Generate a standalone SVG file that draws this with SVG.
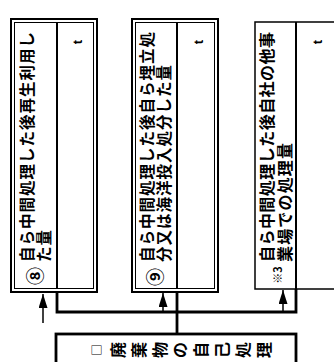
<svg xmlns="http://www.w3.org/2000/svg" width="334" height="362" viewBox="0 0 334 362">
<style>
.bg{fill:#fff}
.outer{fill:none;stroke:#000;stroke-width:2}
.inner{fill:none;stroke:#000;stroke-width:1}
.single{fill:#fff;stroke:#000;stroke-width:1.5}
.div{stroke:#000;stroke-width:2}
.jp{font-family:"Noto Sans CJK JP","Noto Sans CJK SC",sans-serif;font-weight:bold;font-size:15.5px;fill:#000;dominant-baseline:central}
.ch{font-family:"Noto Sans CJK JP","Noto Sans CJK SC",sans-serif;font-weight:bold;font-size:16px;fill:#000;text-anchor:middle;dominant-baseline:central}
.num{font-family:"Noto Sans CJK JP",sans-serif;font-weight:bold;font-size:18px;fill:#000;text-anchor:middle;dominant-baseline:central}
.unit{font-family:"Liberation Sans",sans-serif;font-weight:bold;font-size:13px;fill:#000;text-anchor:middle;dominant-baseline:central}
.wire{fill:none;stroke:#000;stroke-width:2.8}
.arr{fill:none;stroke:#000;stroke-width:1.5}
</style>
<defs>
<marker id="ahl" viewBox="0 0 14 9" refX="14" refY="4.5" markerWidth="14" markerHeight="9" markerUnits="userSpaceOnUse" orient="auto"><path d="M0,0 L14,4.5 L0,9 z" fill="#000"/></marker>
</defs>
<rect class="bg" x="0" y="0" width="334" height="362"/>

<g id="connectors">
<path class="wire" d="M57,292 V312 H296 V289"/>
<path class="wire" d="M177,292 V334"/>
<path class="arr" d="M43,323 V294" marker-end="url(#ahl)"/>
<path class="arr" d="M163,312 V293" marker-end="url(#ahl)"/>
<path class="arr" d="M283,312 V290" marker-end="url(#ahl)"/>
</g>

<g id="box8">
<rect class="outer" x="11" y="19" width="86" height="273"/>
<rect class="inner" x="14.5" y="22.5" width="79" height="266"/>
<line class="div" x1="57" y1="22.5" x2="57" y2="288.5"/>
<text class="jp" transform="translate(26,262) rotate(-90)" textLength="230" lengthAdjust="spacing">自ら中間処理した後再生利用し</text>
<text class="jp" transform="translate(43,262) rotate(-90)" letter-spacing="1">た量</text>
<text class="num" transform="translate(34,276) rotate(-90)">⑧</text>
<text class="unit" transform="translate(77,42) rotate(-90)">t</text>
</g>

<g id="box9">
<rect class="outer" x="132" y="19" width="86" height="273"/>
<rect class="inner" x="135.5" y="22.5" width="79" height="266"/>
<line class="div" x1="177" y1="22.5" x2="177" y2="288.5"/>
<text class="jp" transform="translate(146,262) rotate(-90)" textLength="230" lengthAdjust="spacing">自ら中間処理した後自ら埋立処</text>
<text class="jp" transform="translate(163,262) rotate(-90)" textLength="197" lengthAdjust="spacing">分又は海洋投入処分した量</text>
<text class="num" transform="translate(154,277) rotate(-90)">⑨</text>
<text class="unit" transform="translate(198,42) rotate(-90)">t</text>
</g>

<g id="box3">
<rect class="single" x="255" y="22" width="90" height="267"/>
<line class="div" x1="296" y1="22" x2="296" y2="289"/>
<text class="jp" style="font-size:16px" transform="translate(266,262) rotate(-90)" textLength="230" lengthAdjust="spacing">自ら中間処理した後自社の他事</text>
<text class="jp" style="font-size:16px" transform="translate(284,262) rotate(-90)" textLength="119" lengthAdjust="spacing">業場での処理量</text>
<text class="num" style="font-size:11px" transform="translate(277,275) rotate(-90)">※3</text>
<text class="unit" transform="translate(317,42) rotate(-90)">t</text>
</g>

<g id="self">
<rect class="wire" x="56" y="334" width="240" height="40" fill="#fff"/>
<text class="ch" style="font-size:11px" transform="translate(96,350) rotate(-90)">□</text>
<text class="ch" transform="translate(117,350) rotate(-90)">廃</text>
<text class="ch" transform="translate(138,350) rotate(-90)">棄</text>
<text class="ch" transform="translate(159,350) rotate(-90)">物</text>
<text class="ch" transform="translate(179,350) rotate(-90)">の</text>
<text class="ch" transform="translate(200,350) rotate(-90)">自</text>
<text class="ch" transform="translate(221,350) rotate(-90)">己</text>
<text class="ch" transform="translate(242,350) rotate(-90)">処</text>
<text class="ch" transform="translate(263,350) rotate(-90)">理</text>
</g>
</svg>
